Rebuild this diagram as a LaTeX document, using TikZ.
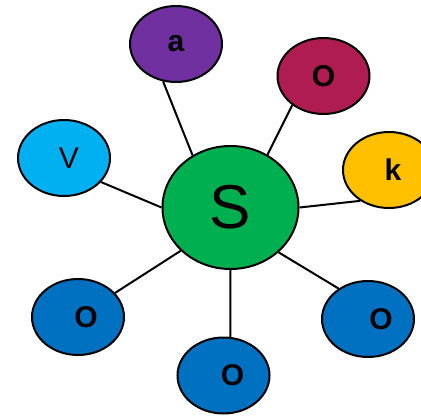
\documentclass[tikz,border=0pt]{standalone}
\usepackage{fontspec}
\setmainfont{Liberation Sans}
\usetikzlibrary{shapes.geometric}

\definecolor{hubgreen}{HTML}{00B050}
\definecolor{purp}{HTML}{7030A0}
\definecolor{crim}{HTML}{AE1C52}
\definecolor{gold}{HTML}{FFC000}
\definecolor{sky}{HTML}{00B0F0}
\definecolor{deepblue}{HTML}{0070C0}

\tikzset{
  bubble/.style={ellipse, draw=black, line width=2pt, minimum width=92pt,
    minimum height=76pt, inner sep=0pt, font=\fontsize{30}{36}\selectfont},
  hub/.style={ellipse, draw=black, line width=2pt, fill=hubgreen,
    minimum width=136pt, minimum height=123pt, inner sep=0pt,
    font=\fontsize{62}{70}\selectfont},
  link/.style={line width=2pt, black}
}

\begin{document}
\begin{tikzpicture}[x=1pt, y=-1pt]
\useasboundingbox (0,0) rectangle (421,416);

\node[hub] (S) at (230.5,207.5) {S};

\node[bubble, fill=purp] (a) at (176,44) {\textbf{a}};
\node[bubble, fill=crim] (otop) at (323.5,76) {\textbf{O}};
\node[bubble, fill=gold] (k) at (389,170) {\hspace*{8pt}\textbf{k}};
\node[bubble, fill=sky] (v) at (64,158) {\hspace*{10pt}V};
\node[bubble, fill=deepblue] (oleft) at (78,317) {\hspace*{16pt}\textbf{O}};
\node[bubble, fill=deepblue] (obot) at (223.5,375.5) {\hspace*{18pt}\textbf{O}};
\node[bubble, fill=deepblue] (oright) at (368,319) {\hspace*{26pt}\textbf{O}};

% spokes
\draw[link] (S.126) -- (a.251);
\draw[link] (S.55) -- (otop.223);
\draw[link] (S.0) -- (k.227);
\draw[link] (S.180) -- (v.327);
\draw[link] (S.221) -- (oleft.33);
\draw[link] (S.270) -- (obot.80);
\draw[link] (S.317) -- (oright.134);
\end{tikzpicture}
\end{document}
